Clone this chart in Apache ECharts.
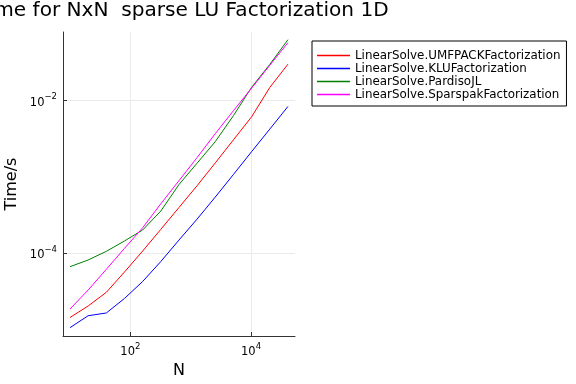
<!DOCTYPE html>
<html>
<head>
<meta charset="utf-8">
<script src="https://cdn.jsdelivr.net/npm/echarts@6/dist/echarts.min.js"></script>
<style>html,body{margin:0;padding:0;background:#fff}#c{width:576px;height:384px}</style>
</head>
<body>
<div id="c"></div>
<script>
const titleText = 'Time for NxN  sparse LU Factorization 1D';
const xName = 'N';
const yName = 'Time/s';
const seriesNames = ['LinearSolve.UMFPACKFactorization', 'LinearSolve.KLUFactorization', 'LinearSolve.PardisoJL', 'LinearSolve.SparspakFactorization'];
const seriesColors = ['#ff0000', '#0000ff', '#008000', '#ff00ff'];
const N = [10, 20, 40, 80, 160, 320, 640, 1280, 2560, 5120, 10240, 20480, 40960];
const umfpack = [1.44e-5, 2.04e-5, 3.08e-5, 5.69e-5, 1.07e-4, 2.06e-4, 3.98e-4, 7.7e-4, 1.53e-3, 3.07e-3, 6.15e-3, 0.0149, 0.0301];
const klu = [1.06e-5, 1.52e-5, 1.65e-5, 2.56e-5, 4.27e-5, 7.8e-5, 1.49e-4, 2.81e-4, 5.46e-4, 1.08e-3, 2.15e-3, 4.24e-3, 8.4e-3];
const pardiso = [6.67e-5, 8.17e-5, 1.06e-4, 1.45e-4, 2.02e-4, 3.58e-4, 7.96e-4, 1.52e-3, 2.91e-3, 6.38e-3, 0.0150, 0.0299, 0.063];
const sparspak = [1.86e-5, 3.3e-5, 6.17e-5, 1.16e-4, 2.16e-4, 4.45e-4, 8.95e-4, 1.8e-3, 3.7e-3, 7.4e-3, 0.0146, 0.0291, 0.0575];
const xTickExps = [2, 4];
const yTickExps = [-4, -2];

const allValues = [umfpack, klu, pardiso, sparspak];
const FONT = 'DejaVu Sans';

function supLabel(v) {
  const e = Math.round(v);
  const s = e < 0 ? '\u2212' + (-e) : String(e);
  return '{b|10}{s|' + s + '}';
}
const richTick = {
  b: {fontSize: 11.5, fontFamily: FONT, color: '#000', verticalAlign: 'bottom', lineHeight: 16},
  s: {fontSize: 8.5, fontFamily: FONT, color: '#000', verticalAlign: 'top', lineHeight: 16}
};

const chart = echarts.init(document.getElementById('c'), null, {renderer: 'canvas'});
chart.setOption({
  animation: false,
  backgroundColor: '#fff',
  title: {
    text: titleText, left: -23, top: 1, padding: 0,
    textStyle: {fontFamily: FONT, fontSize: 20.1, fontWeight: 'normal', color: '#000'}
  },
  grid: {left: 63, right: 281, top: 32, bottom: 48, containLabel: false},
  legend: {
    orient: 'vertical', left: 312, top: 41,
    data: seriesNames.map((n, i) => ({name: n, itemStyle: {color: seriesColors[i]}})),
    icon: 'rect', itemWidth: 33, itemHeight: 1.5, itemGap: 0,
    padding: [8, 6, 5, 5],
    borderColor: '#000', borderWidth: 1, borderRadius: 0,
    backgroundColor: '#fff',
    textStyle: {fontFamily: FONT, fontSize: 11.9, color: '#000', lineHeight: 13}
  },
  xAxis: {
    type: 'value', min: 0.884, max: 4.729,
    name: xName, nameLocation: 'middle', nameGap: 25,
    nameTextStyle: {fontFamily: FONT, fontSize: 16, color: '#000'},
    axisLine: {show: true, lineStyle: {color: '#333', width: 1}},
    axisTick: {show: true, inside: true, length: 4, customValues: xTickExps, lineStyle: {color: '#333'}},
    axisLabel: {customValues: xTickExps, formatter: supLabel, rich: richTick, margin: 6},
    splitLine: {show: true, lineStyle: {color: '#ebebeb', width: 1}}
  },
  yAxis: {
    type: 'value', min: -5.084, max: -1.100,
    name: yName, nameLocation: 'middle', nameGap: 43, nameRotate: 90,
    nameTextStyle: {fontFamily: FONT, fontSize: 16, color: '#000'},
    axisLine: {show: true, lineStyle: {color: '#333', width: 1}},
    axisTick: {show: true, inside: true, length: 4, customValues: yTickExps, lineStyle: {color: '#333'}},
    axisLabel: {customValues: yTickExps, formatter: supLabel, rich: richTick, margin: 6},
    splitLine: {show: true, lineStyle: {color: '#ebebeb', width: 1}}
  },
  series: seriesNames.map((name, i) => ({
    name: name, type: 'line', showSymbol: false, symbol: 'none',
    color: seriesColors[i],
    lineStyle: {width: 1, color: seriesColors[i]},
    data: N.map((n, j) => [Math.log10(n), Math.log10(allValues[i][j])])
  }))
});
</script>
</body>
</html>
